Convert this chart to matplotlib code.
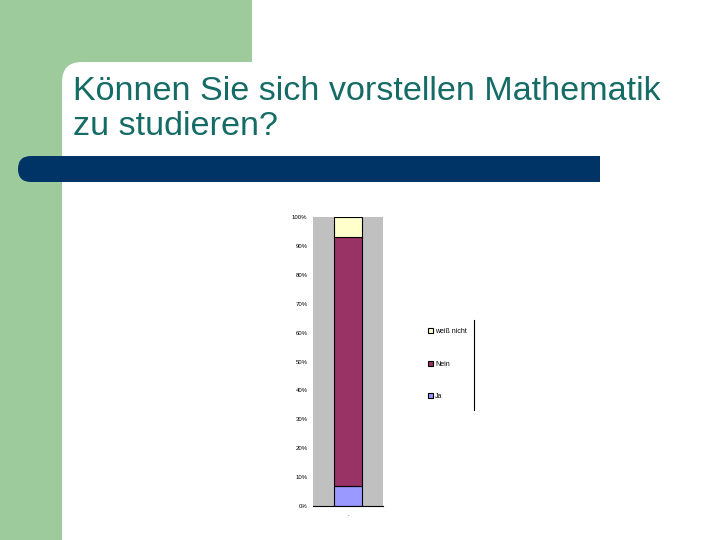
import matplotlib
matplotlib.use("Agg")
import matplotlib.pyplot as plt
from matplotlib.patches import Rectangle, FancyBboxPatch

# data (percent of answers)
categories = ["Ja", "Nein", "weiß nicht"]
shares = [7, 86, 7]
colors = ["#9999ff", "#993366", "#ffffcc"]
yticks = [0, 10, 20, 30, 40, 50, 60, 70, 80, 90, 100]
ylabels = [f"{v}%" for v in yticks]

TITLE = "Können Sie sich vorstellen Mathematik\nzu studieren?"
GREEN = "#9dcb9b"
NAVY = "#003366"
TEAL = "#156b66"

plt.rcParams["font.family"] = ["Liberation Sans", "DejaVu Sans"]
fig = plt.figure(figsize=(7.2, 5.4), dpi=100)

# ── slide background (pixel coords) ─────────────────────────────────────────
bg = fig.add_axes([0, 0, 1, 1])
bg.set_xlim(0, 720); bg.set_ylim(540, 0); bg.axis("off")
bg.add_patch(Rectangle((0, 0), 252, 540, color=GREEN, lw=0))
bg.add_patch(FancyBboxPatch((62, 62), 800, 600, boxstyle="round,pad=0,rounding_size=20",
                            fc="white", ec="none"))
bg.add_patch(FancyBboxPatch((18, 156), 582, 26, boxstyle="round,pad=0,rounding_size=13",
                            fc=NAVY, ec="none"))
bg.add_patch(Rectangle((300, 156), 300, 26, color=NAVY, lw=0))
bg.text(73, 76, TITLE, color=TEAL, fontsize=24.6, va="top", ha="left", linespacing=1.16)
bg.plot([474, 474], [320, 410], color="black", lw=0.8)

# ── stacked bar ─────────────────────────────────────────────────────────────
ax = fig.add_axes([313 / 720, 34 / 540, 70 / 720, 289 / 540])
ax.set_facecolor("#c0c0c0")
bottom = 0
handles = []
for cat, val, c in zip(categories, shares, colors):
    h = ax.bar(0, val, width=0.4, bottom=bottom, color=c, edgecolor="black", linewidth=0.8, label=cat)
    handles.append(h)
    bottom += val
ax.set_xlim(-0.5, 0.5); ax.set_ylim(0, 100)
ax.set_yticks(yticks); ax.set_yticklabels(ylabels, fontsize=4.3)
ax.set_xticks([0]); ax.set_xticklabels(["."], fontsize=4.3)
ax.tick_params(length=0, pad=4)
for s in ["top", "right", "left"]:
    ax.spines[s].set_visible(False)
ax.spines["bottom"].set_linewidth(0.8)

fig.legend(handles[::-1], categories[::-1], loc="center left", bbox_to_anchor=(422 / 720, 1 - 364 / 540),
           frameon=False, fontsize=5, labelspacing=3.7, handlelength=0.7, handleheight=0.7,
           handletextpad=0.3)

fig.savefig("out.png", dpi=100)
